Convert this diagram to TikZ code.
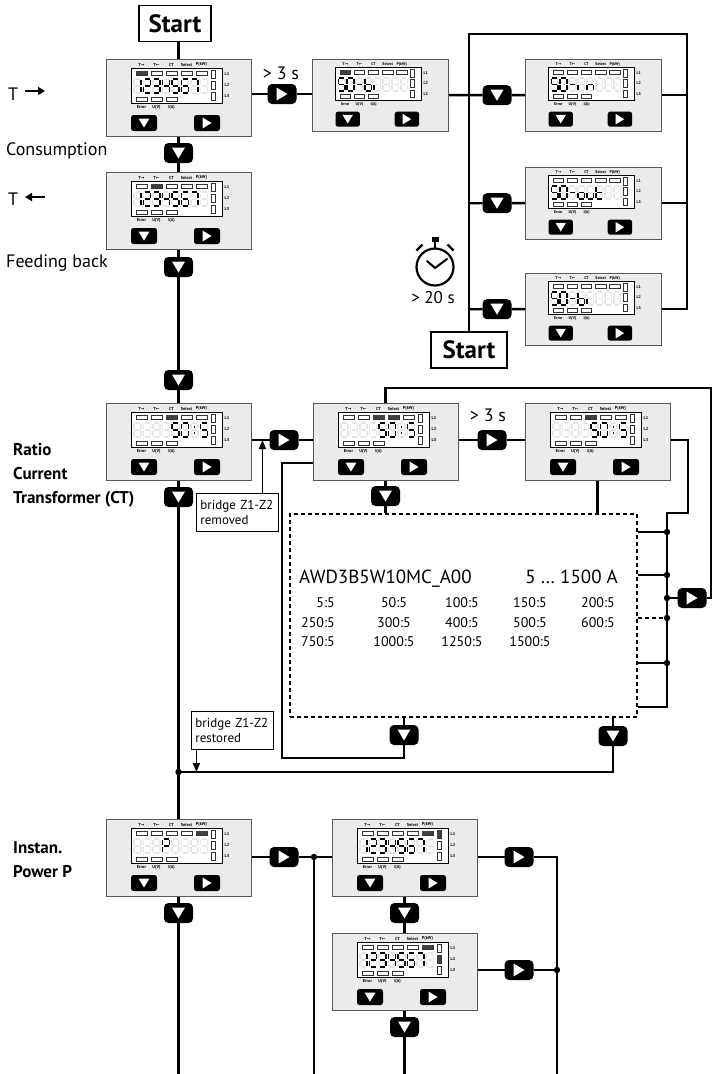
\documentclass[tikz,border=0pt]{standalone}
\usepackage{fontspec}
\setmainfont{PT Sans}
\newfontfamily\djv{DejaVu Sans}
\usetikzlibrary{arrows.meta,backgrounds}

% seven-segment paths
\expandafter\def\csname sgpa\endcsname{(1,0)--(6,0)}
\expandafter\def\csname sgpb\endcsname{(7,1)--(7,6.2)}
\expandafter\def\csname sgpc\endcsname{(7,7.8)--(7,13)}
\expandafter\def\csname sgpd\endcsname{(1,14)--(6,14)}
\expandafter\def\csname sgpe\endcsname{(0,7.8)--(0,13)}
\expandafter\def\csname sgpf\endcsname{(0,1)--(0,6.2)}
\expandafter\def\csname sgpg\endcsname{(1,7)--(6,7)}
\expandafter\def\csname sgpp\endcsname{(3.5,3.4)--(3.5,5)}
\expandafter\def\csname sgpq\endcsname{(3.5,9)--(3.5,10.6)}
\expandafter\def\csname sgpz\endcsname{(0,0)}
% characters
\expandafter\def\csname chr0\endcsname{a,b,c,d,e,f}
\expandafter\def\csname chr1\endcsname{b,c}
\expandafter\def\csname chr2\endcsname{a,b,g,e,d}
\expandafter\def\csname chr3\endcsname{a,b,g,c,d}
\expandafter\def\csname chr4\endcsname{f,g,b,c}
\expandafter\def\csname chr5\endcsname{a,f,g,c,d}
\expandafter\def\csname chr6\endcsname{a,f,g,e,d,c}
\expandafter\def\csname chr7\endcsname{a,b,c}
\expandafter\def\csname chrP\endcsname{a,b,f,g,e}
\expandafter\def\csname chrb\endcsname{f,g,c,d,e}
\expandafter\def\csname chri\endcsname{e}
\expandafter\def\csname chrn\endcsname{e,g,c}
\expandafter\def\csname chro\endcsname{c,d,e,g}
\expandafter\def\csname chru\endcsname{c,d,e}
\expandafter\def\csname chrt\endcsname{d,e,f,g}
\expandafter\def\csname chr-\endcsname{g}
\expandafter\def\csname chrk\endcsname{p,q}
\expandafter\def\csname chrx\endcsname{z}

\tikzset{
 conn/.style={line width=2.4},
 panel/.style={draw=black!65, fill=black!8, line width=0.9, minimum width=145, minimum height=77, inner sep=0, outer sep=0},
 lcd/.style={draw=black, fill=white, line width=0.8},
 ind/.style={draw=black!80, line width=0.6, fill=white},
 indfill/.style={fill=black!75},
 tinyl/.style={font=\bfseries\fontsize{4.3}{4.3}\selectfont, inner sep=0},
 ghost/.style={draw=black!10, line width=1.5},
 seg/.style={draw=black, line width=1.6},
 btn/.style={fill=black, rounded corners=4.5, minimum width=29, minimum height=20, inner sep=0, outer sep=0},
 bD/.style={btn, path picture={\fill[white,sharp corners] ([shift={(-6.5,-5.5)}]path picture bounding box.center) -- ++(13,0) -- ++(-6.5,11) -- cycle;}},
 bR/.style={btn, path picture={\fill[white,sharp corners] ([shift={(-5.5,-6.5)}]path picture bounding box.center) -- ++(0,13) -- ++(11,-6.5) -- cycle;}},
 pbtn/.style={fill=black, rounded corners=2.5, minimum width=26, minimum height=16, inner sep=0},
 pbD/.style={pbtn, path picture={\fill[white,sharp corners] ([shift={(-5.5,-4.5)}]path picture bounding box.center) -- ++(11,0) -- ++(-5.5,9) -- cycle;}},
 pbR/.style={pbtn, path picture={\fill[white,sharp corners] ([shift={(-4.5,-5.5)}]path picture bounding box.center) -- ++(0,11) -- ++(9,-5.5) -- cycle;}},
 startbox/.style={draw, line width=1.8, fill=white, font=\bfseries\fontsize{25}{28}\selectfont, minimum width=72, minimum height=36, inner sep=0},
 lbl/.style={font=\fontsize{18}{20}\selectfont, inner sep=0, anchor=base west},
 blbl/.style={font=\bfseries\fontsize{17}{20}\selectfont, inner sep=0, anchor=base west},
 tlbl/.style={font=\fontsize{18}{20}\selectfont, inner sep=0},
 tarr/.style={line width=2.4, -{Triangle[length=7,width=8]}},
 bbox/.style={draw, line width=0.9, fill=white, font=\fontsize{13}{15}\selectfont, align=left, text width=74, inner xsep=4, minimum height=38, anchor=north west},
 barr/.style={line width=1.3, -{Triangle[length=9,width=7]}},
 dbox/.style={draw, line width=1.6, dash pattern=on 4pt off 3pt, minimum width=347, minimum height=203, anchor=north west, inner sep=0},
 rt/.style={font=\fontsize{14}{16}\selectfont, inner sep=0, anchor=base},
}

\newcommand\drawdevice[6][1]{%
\begin{scope}[shift={#3},scale=#1,transform shape]
 \node[panel,anchor=north west] (#2) at (0,0) {};
 \draw[lcd] (25,9) rectangle (116,44);
 \foreach \lab [count=\n] in {T{\djv→},T{\djv←},CT,Select,P(kW)}
   \node[tinyl] (#2-t\n) at (20.5+15*\n,5.5) {\lab};
 \foreach \n in {1,...,5} \draw[ind] (15+15*\n,12) rectangle ++(11,4);
 \foreach \n in {#4} {\ifnum\n>0 \fill[indfill] (15+15*\n,12) rectangle ++(11,4);\fi}
 \foreach \n in {1,2,3} \draw[ind] (15+15*\n,38) rectangle ++(11,4);
 \foreach \lab [count=\n] in {Error,U(V),I(A)}
   \node[tinyl] (#2-b\n) at (20.5+15*\n,48.5) {\lab};
 \foreach \n in {1,2,3} {\draw[ind] (105,11*\n) rectangle ++(4,8);
   \node[tinyl] (#2-l\n) at (121,11*\n+4) {L\n};}
 \foreach \n in {#5} {\ifnum\n>0 \fill[indfill] (105,11*\n) rectangle ++(4,8);\fi}
 \foreach \ch [count=\pos from 0] in {#6} {
   \begin{scope}[shift={({28+9.5*\pos},20)}]
   \foreach \s in {a,b,c,d,e,f,g} {\edef\tmp{\noexpand\draw[ghost] \csname sgp\s\endcsname;}\tmp}
   \edef\segs{\csname chr\ch\endcsname}
   \foreach \s in \segs {\edef\tmp{\noexpand\draw[seg] \csname sgp\s\endcsname;}\tmp}
   \end{scope}}
 \node[pbD] (#2-kd) at (38,64) {};
 \node[pbR] (#2-kr) at (101,64) {};
\end{scope}}

\begin{document}
\begin{tikzpicture}[x=1pt,y=-1pt]
\useasboundingbox (0,0) rectangle (714,1074);

% Start boxes
\node[startbox] (start1) at (175,23.5) {Start};
\node[startbox,minimum width=76] (start2) at (469,350) {Start};

% devices
\drawdevice{D1}{(106,59)}{1}{0}{1,2,3,4,5,6,7,x}
\drawdevice{D2}{(106,172)}{2}{0}{1,2,3,4,5,6,7,x}
\drawdevice[0.94]{Dbi}{(312,59)}{1}{0}{5,0,-,b,i,x,x,x}
\drawdevice[0.94]{Din}{(525,59)}{0}{0}{5,0,-,i,n,x,x,x}
\drawdevice[0.94]{Dout}{(525,167)}{0}{0}{5,0,-,o,u,t,x,x}
\drawdevice[0.94]{Dbi2}{(525,273)}{0}{0}{5,0,-,b,i,x,x,x}
\drawdevice{D3}{(106,403)}{3}{0}{x,x,x,x,5,0,k,5}
\drawdevice{D4}{(313,403)}{3,4}{0}{x,x,x,x,5,0,k,5}
\drawdevice{D5}{(525,403)}{3}{0}{x,x,x,x,5,0,k,5}
\drawdevice{D6}{(106,819)}{5}{0}{x,x,x,P,x,x,x,x}
\drawdevice{D7}{(332,819)}{5}{1}{1,2,3,4,5,6,7,x}
\drawdevice{D8}{(332,933)}{5}{2}{1,2,3,4,5,6,7,x}

% connector buttons
\node[bD] (b1) at (178.5,153) {};
\node[bD] (b2) at (178.5,267) {};
\node[bD] (b3) at (178.5,380) {};
\node[bD] (b4) at (178.5,497) {};
\node[bD] (b5) at (178.5,913) {};
\node[bR] (b6) at (282,94) {};
\node[bD] (bt1) at (497,95.2) {};
\node[bD] (bt2) at (497,203.2) {};
\node[bD] (bt3) at (497,309.2) {};
\node[bR] (b7) at (284,440) {};
\node[bR] (b8) at (492,440) {};
\node[bD] (b9) at (385.5,496) {};
\node[bR] (b10) at (692,598) {};
\node[bD] (b11) at (404,735) {};
\node[bD] (b12) at (613,736) {};
\node[bR] (b13) at (284,857) {};
\node[bR] (b14) at (519,857) {};
\node[bD] (b15) at (404.5,913) {};
\node[bR] (b16) at (519,970) {};
\node[bD] (b17) at (404.5,1027) {};

% dashed selection box
\node[dbox] (box) at (289,513) {};
\node[font=\fontsize{19}{22}\selectfont, inner sep=0, anchor=base west] (awd) at (299,583) {AWD3B5W10MC\_A00};
\node[font=\fontsize{19}{22}\selectfont, inner sep=0, anchor=base east] (rng) at (618,583) {5 … 1500 A};
\node[rt, anchor=base east] (r11) at (335,607) {5:5};
\node[rt] (r12) at (394,607) {50:5};
\node[rt] (r13) at (462,607) {100:5};
\node[rt] (r14) at (530,607) {150:5};
\node[rt] (r15) at (598,607) {200:5};
\node[rt, anchor=base east] (r21) at (335,627) {250:5};
\node[rt] (r22) at (394,627) {300:5};
\node[rt] (r23) at (462,627) {400:5};
\node[rt] (r24) at (530,627) {500:5};
\node[rt] (r25) at (598,627) {600:5};
\node[rt, anchor=base east] (r31) at (335,646) {750:5};
\node[rt] (r32) at (394,646) {1000:5};
\node[rt] (r33) at (462,646) {1250:5};
\node[rt] (r34) at (530,646) {1500:5};

% bridge notes
\node[bbox] (br1) at (196,493) {bridge Z1-Z2\\removed};
\node[bbox] (br2) at (191,711) {bridge Z1-Z2\\restored};

% left labels
\node[lbl] (tcons) at (8,100) {T};
\draw[tarr] (25,91) -- (45,91);
\node[lbl] (cons) at (6,155) {Consumption};
\node[lbl] (tfeed) at (8,205) {T};
\draw[tarr] (45,197) -- (25,197);
\node[lbl] (feed) at (6,267) {Feeding back};
\node[blbl] (ratio) at (13,455) {Ratio};
\node[blbl] (cur) at (13,479) {Current};
\node[blbl] (trf) at (13,503) {Transformer (CT)};
\node[blbl] (inst) at (13,853) {Instan.};
\node[blbl] (pow) at (13,877) {Power P};

% timing labels
\node[tlbl] (t3a) at (281,73) {> 3 s};
\node[tlbl] (t3b) at (488,415) {> 3 s};
\node[tlbl, font=\fontsize{17}{20}\selectfont] (t20) at (433,298) {> 20 s};

% stopwatch
\draw[line width=2.2] (435,267) circle[radius=18.5];
\fill (431.5,236.5) rectangle (438.5,241.5);
\draw[line width=2.2] (435,241) -- (435,249);
\draw[line width=2.2] (416.5,250.5) -- (422.5,244.5);
\draw[line width=2.2] (447.5,244.5) -- (453.5,250.5);
\draw[line width=2, line join=round, line cap=round] (427,261) -- (435,268) -- (447,259);

% coordinates
\coordinate (tl) at (469,34); \coordinate (tr) at (687,34);
\coordinate (lt) at (711,388);
\coordinate (lw) at (282,463); \coordinate (ll) at (282,758);
\coordinate (r1) at (688,440); \coordinate (rv) at (667,513); \coordinate (rb) at (667,707);
\coordinate (s1) at (667,532); \coordinate (s2) at (667,575); \coordinate (s3) at (667,598);
\coordinate (s4) at (667,618); \coordinate (s5) at (667,663);
\coordinate (j1) at (178.5,772);
\coordinate (j2) at (314,857); \coordinate (rc) at (557,857); \coordinate (j3) at (557,970);
\coordinate (e1) at (178.5,1074); \coordinate (e2) at (314,1074);
\coordinate (e3) at (404.5,1074); \coordinate (e4) at (557,1074);
\coordinate (a1) at ([xshift=25pt]br1.north);
\coordinate (a2) at ([xshift=-36pt]br2.south);

\foreach \p in {j1,j2,j3,s1,s2,s3,s4,s5} \fill (\p) circle[radius=3.2];

\begin{scope}[on background layer]
\draw[conn] (D1.north |- start1.south) -- (D1.north);
\draw[conn] (D1) -- (b1) -- (D2);
\draw[conn] (D2) -- (b2) -- (b3) -- (D3);
\draw[conn] (D3) -- (b4) -- (j1) -- (D6);
\draw[conn] (D6) -- (b5) -- (e1);
\draw[conn] (D1.east |- b6) -- (b6) -- (b6 -| Dbi.west);
\draw[conn] (Dbi.east) -- (bt1) -- (Din.west);
\draw[conn] (start2.north -| tl) -- (tl) -- (tr) -- (tr |- Dbi2.east) -- (Dbi2.east);
\draw[conn] (Din.east) -- (Din.east -| tr);
\draw[conn] (Dout.east) -- (Dout.east -| tr);
\draw[conn] (bt2 -| tl) -- (bt2) -- (Dout.west);
\draw[conn] (bt3 -| tl) -- (bt3) -- (Dbi2.west);
\draw[conn] (D3.east |- b7) -- (b7) -- (b7 -| D4.west);
\draw[conn] (D4.east |- b8) -- (b8) -- (b8 -| D5.west);
\draw[conn] (D4) -- (b9) -- (b9 |- box.north);
\draw[conn] (s3) -- (b10) -- (b10 -| lt) -- (lt) -- (lt -| D4.north) -- (D4.north);
\draw[conn] (lw -| D4.west) -- (lw) -- (ll) -- (ll -| b11) -- (b11) -- (b11 |- box.south);
\draw[conn] (D5) -- (D5 |- box.north);
\draw[conn] (D5.east |- r1) -- (r1) -- (r1 |- rv) -- (rv) -- (rb) -- (rb -| box.east);
\draw[conn] (s1 -| box.east) -- (s1);
\draw[conn] (s2 -| box.east) -- (s2);
\draw[conn] (s5 -| box.east) -- (s5);
\draw[conn, dash pattern=on 4pt off 3pt] (s4 -| box.east) -- (s4);
\draw[conn] (box.south -| b12) -- (b12) -- (b12 |- j1) -- (j1);
\draw[conn] (D6.east |- b13) -- (b13) -- (j2) -- (j2 -| D7.west);
\draw[conn] (j2) -- (e2);
\draw[conn] (D7) -- (b15) -- (D8) -- (b17) -- (e3);
\draw[conn] (D7.east |- b14) -- (b14) -- (rc) -- (e4);
\draw[conn] (D8.east |- b16) -- (b16) -- (j3);
\draw[barr] (a1) -- (a1 |- b7);
\draw[barr] (a2) -- (a2 |- j1);
\end{scope}
\end{tikzpicture}
\end{document}
